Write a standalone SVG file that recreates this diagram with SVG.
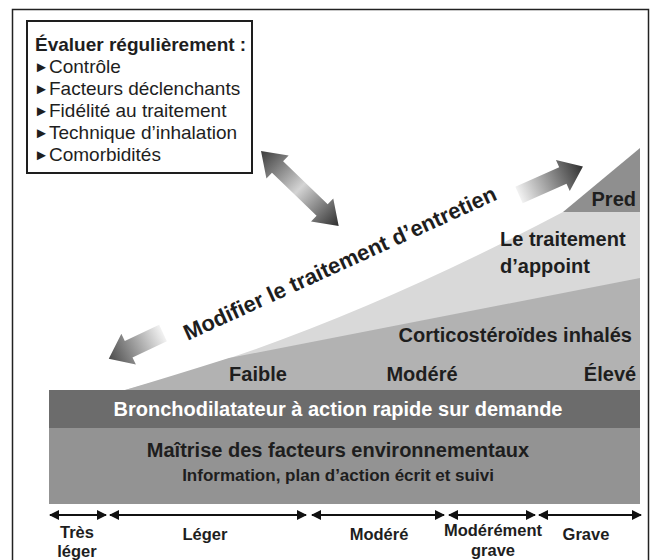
<svg xmlns="http://www.w3.org/2000/svg" width="655" height="560" viewBox="0 0 655 560">
<style>
text{font-family:"Liberation Sans",Arial,Helvetica,sans-serif;fill:#1e1e1e}
.b{font-weight:bold}
.box{font-size:19px}
.bul{font-size:15px;font-family:"DejaVu Sans",sans-serif}
.lab{font-size:20px;font-weight:bold}
.sev{font-size:16.5px;font-weight:bold;text-anchor:middle}
.rng{stroke:#111;stroke-width:2;fill:none;marker-start:url(#ah);marker-end:url(#ah)}
</style>
<defs>
<marker id="ah" viewBox="0 0 10 10" refX="9" refY="5" markerWidth="5" markerHeight="5" orient="auto-start-reverse" markerUnits="strokeWidth">
<path d="M0,0 L10,5 L0,10 Z" fill="#111"/>
</marker>
<linearGradient id="gDouble" gradientUnits="userSpaceOnUse" x1="0" y1="0" x2="108" y2="0">
<stop offset="0" stop-color="#3c3c3c"/>
<stop offset="0.5" stop-color="#d4d4d4"/>
<stop offset="1" stop-color="#2e2e2e"/>
</linearGradient>
<linearGradient id="gSingle" gradientUnits="userSpaceOnUse" x1="0" y1="0" x2="70" y2="0">
<stop offset="0" stop-color="#f2f2f2"/>
<stop offset="1" stop-color="#303030"/>
</linearGradient>
</defs>

<rect x="12.5" y="9.5" width="636" height="565" fill="#fff" stroke="#222" stroke-width="1.5"/>

<g id="regions">
<path d="M125,390 Q330,335 563,212 L640,212 L640,390 Z" fill="#d9d9d9"/>
<path d="M125,390 Q172,376 229,358 L640,278 L640,390 Z" fill="#b2b2b2"/>
<path d="M563,212 L640,148 L640,212 Z" fill="#8f8f8f"/>
<rect x="49" y="390" width="591" height="38" fill="#6c6c6c"/>
<rect x="49" y="428" width="591" height="76" fill="#939393"/>
</g>

<g id="evaluer">
<rect x="27" y="21" width="225" height="152" fill="#fff" stroke="#1e1e1e" stroke-width="2"/>
<text x="35" y="51" class="box b">Évaluer régulièrement :</text>
<g class="bul">
<text x="34" y="72">►</text>
<text x="34" y="94">►</text>
<text x="34" y="116">►</text>
<text x="34" y="138">►</text>
<text x="34" y="160">►</text>
</g>
<g class="box">
<text x="49" y="73">Contrôle</text>
<text x="49" y="95">Facteurs déclenchants</text>
<text x="49" y="117">Fidélité au traitement</text>
<text x="49" y="139">Technique d’inhalation</text>
<text x="49" y="161">Comorbidités</text>
</g>
</g>

<g id="arrows">
<path transform="translate(261,151) rotate(44)" d="M0,0 L23,-16 L23,-8 L85,-8 L85,-16 L108,0 L85,16 L85,8 L23,8 L23,16 Z" fill="url(#gDouble)"/>
<path transform="translate(519,195) rotate(-24)" d="M0,-9 L48,-9 L48,-17 L70,0 L48,17 L48,9 L0,9 Z" fill="url(#gSingle)"/>
<path transform="translate(163,333) rotate(154.7)" d="M0,-9 L38,-9 L38,-17 L60,0 L38,17 L38,9 L0,9 Z" fill="url(#gSingle)"/>
</g>

<g id="modifier">
<text class="b" font-size="22" text-anchor="middle" transform="translate(343,270) rotate(-24.5)">Modifier le traitement d’entretien</text>
</g>

<g id="labels">
<text x="636" y="206" class="lab" text-anchor="end">Pred</text>
<text x="500" y="246" class="lab">Le traitement</text>
<text x="500" y="273" class="lab">d’appoint</text>
<text x="632" y="342" class="lab" text-anchor="end">Corticostéroïdes inhalés</text>
<text x="258" y="381" class="lab" text-anchor="middle">Faible</text>
<text x="422" y="381" class="lab" text-anchor="middle">Modéré</text>
<text x="610" y="381" class="lab" text-anchor="middle">Élevé</text>
<text x="338" y="416" class="lab" text-anchor="middle" style="fill:#fff">Bronchodilatateur à action rapide sur demande</text>
<text x="338" y="457" class="lab" text-anchor="middle">Maîtrise des facteurs environnementaux</text>
<text x="338" y="481" class="b" font-size="17" text-anchor="middle">Information, plan d’action écrit et suivi</text>
</g>

<g id="severity">
<line class="rng" x1="50" y1="515" x2="106" y2="515"/>
<line class="rng" x1="110" y1="515" x2="306" y2="515"/>
<line class="rng" x1="312" y1="515" x2="444" y2="515"/>
<line class="rng" x1="449" y1="515" x2="535" y2="515"/>
<line class="rng" x1="539" y1="515" x2="641" y2="515"/>
<text x="77" y="538" class="sev">Très</text>
<text x="77" y="557" class="sev">léger</text>
<text x="205" y="540" class="sev">Léger</text>
<text x="379" y="540" class="sev">Modéré</text>
<text x="493" y="536" class="sev">Modérément</text>
<text x="493" y="556" class="sev">grave</text>
<text x="586" y="540" class="sev">Grave</text>
</g>
</svg>
